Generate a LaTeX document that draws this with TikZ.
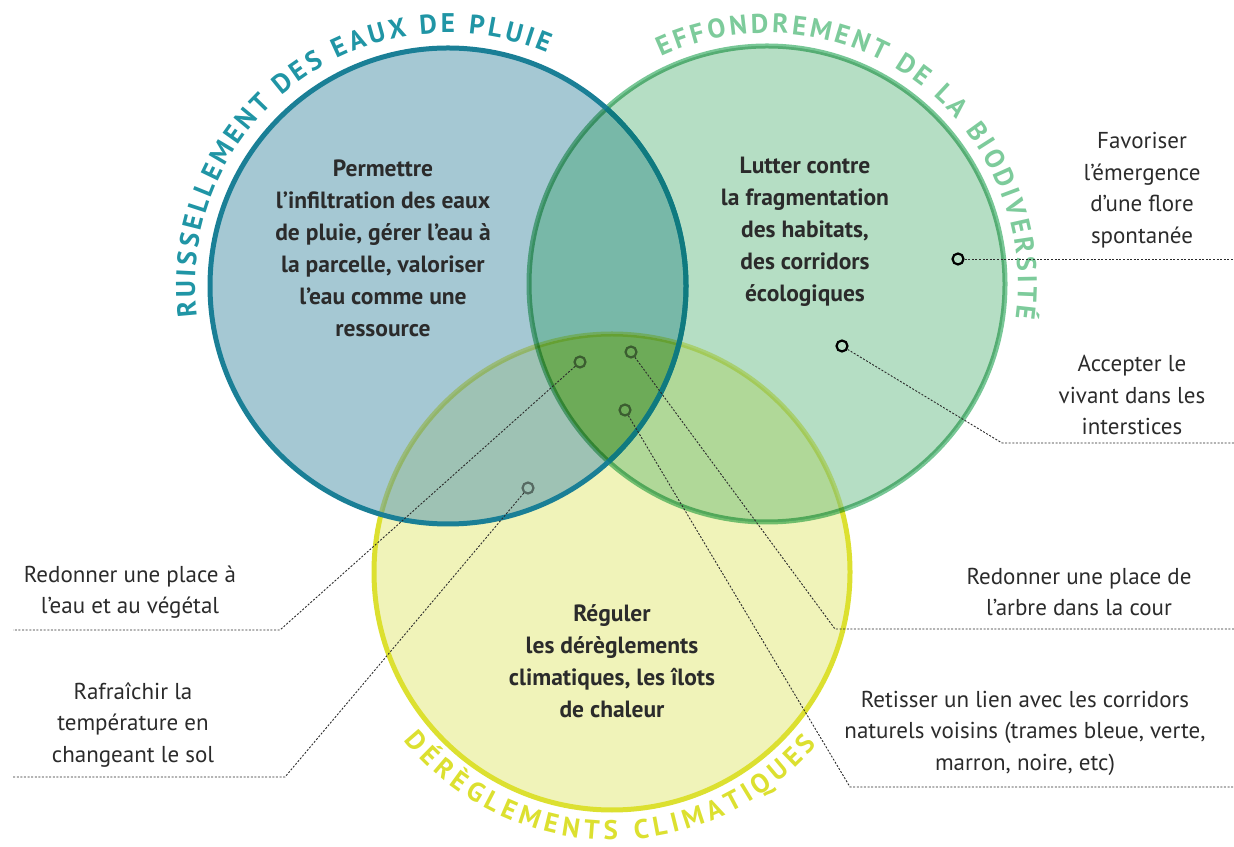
\documentclass[tikz,border=0pt]{standalone}
\usepackage{fontspec}
\setmainfont{PT Sans}
\usetikzlibrary{decorations.text}

\definecolor{bluefill}{HTML}{A5C8D3}
\definecolor{greenfill}{HTML}{B5DEC4}
\definecolor{yellowfill}{HTML}{F0F3B9}
\definecolor{abfill}{HTML}{78B8A8}
\definecolor{acfill}{HTML}{9EC2B4}
\definecolor{bcfill}{HTML}{B0D898}
\definecolor{abcfill}{HTML}{6DAB58}
\definecolor{blueline}{HTML}{1A7F96}
\definecolor{bluedeep}{HTML}{0F7A7F}
\definecolor{greenline}{HTML}{78C796}
\definecolor{yellowline}{HTML}{DCE030}
\definecolor{bluetitle}{HTML}{2095A5}
\definecolor{greentitle}{HTML}{7DCB9B}
\definecolor{yellowtitle}{HTML}{DCE030}
\definecolor{txt}{HTML}{2B2B2B}

\tikzset{
  ring/.style={line width=5pt},
  core/.style={align=center, text=txt, font=\bfseries\fontsize{23.5}{32}\selectfont},
  remark/.style={align=center, text=txt, font=\fontsize{23}{31.5}\selectfont},
  pin/.style={circle, draw=black, line width=2.2pt, minimum size=11pt, inner sep=0pt},
  pinlight/.style={pin, draw opacity=0.45},
  leader/.style={draw=txt, line width=0.9pt, dash pattern=on 2pt off 1.6pt},
  title/.style 2 args={decorate, decoration={text along path, text align={fit to path},
    text={|\bfseries\fontsize{27}{27}\selectfont\color{#1}|#2}}}
}
\newcommand\vennfills{%
\fill[bluefill] (A) circle[radius=238];
\fill[greenfill] (B) circle[radius=238];
\begin{scope}
\clip (B) circle[radius=238];
\fill[bcfill] (C) circle[radius=238];
\end{scope}
\begin{scope}
\clip (A) circle[radius=238];
\fill[abfill] (B) circle[radius=238];
\fill[acfill] (C) circle[radius=238];
\clip (B) circle[radius=238];
\fill[abcfill] (C) circle[radius=238];
\end{scope}}

\begin{document}
\begin{tikzpicture}[x=1pt, y=1pt]
\useasboundingbox (0,0) rectangle (1234,846);
%
\coordinate (A) at (448,560);
\coordinate (B) at (767,562);
\coordinate (C) at (612,274);

% fills
\fill[yellowfill] (C) circle[radius=238];
\vennfills
\draw[ring, yellowline] (C) circle[radius=238];
% yellow ring seen through the two upper discs
\begin{scope}
\clip (A) circle[radius=238] (B) circle[radius=238];
\vennfills
\draw[ring, yellowline, blend mode=multiply, draw opacity=0.5] (C) circle[radius=238];
\end{scope}

% rings
\draw[ring, greenline, blend mode=multiply] (B) circle[radius=238];
\draw[ring, blueline] (A) circle[radius=238];
\begin{scope}
\clip (B) circle[radius=238];
\draw[ring, bluedeep] (A) circle[radius=238];
\end{scope}

% titles
\path[title={bluetitle}{RUISSELLEMENT DES EAUX DE PLUIE}]
  ([shift={(A)}]187:253) arc[start angle=187, end angle=67, radius=253];
\path[title={greentitle}{EFFONDREMENT DE LA BIODIVERSITÉ}]
  ([shift={(B)}]115:251) arc[start angle=115, end angle=-8, radius=251];
\path[title={yellowtitle}{DÉRÈGLEMENTS CLIMATIQUES}]
  ([shift={(C)}]219:268) arc[start angle=219, end angle=320, radius=268];

% texts
\node[core] (pluie) at (383,598) {Permettre\\ l’infiltration des eaux\\ de pluie, gérer l’eau à\\ la parcelle, valoriser\\ l’eau comme une\\ ressource};
\node[core] (habitat) at (805,614) {Lutter contre\\ la fragmentation\\ des habitats,\\ des corridors\\ écologiques};
\node[core] (climat) at (612,185) {Réguler\\ les dérèglements\\ climatiques, les îlots\\ de chaleur};

% remarks
\node[remark] (flore) at (1142,656) {Favoriser\\ l’émergence\\ d’une flore\\ spontanée};
\node[remark] (vivant) at (1132,451) {Accepter le\\ vivant dans les\\ interstices};
\node[remark] (arbre) at (1079,254) {Redonner une place de\\ l’arbre dans la cour};
\node[remark] (trame) at (1025,113) {Retisser un lien avec les corridors\\ naturels voisins (trames bleue, verte,\\ marron, noire, etc)};
\node[remark] (eau) at (130,254) {Redonner une place à\\ l’eau et au végétal};
\node[remark] (sol) at (133,121) {Rafraîchir la\\ température en\\ changeant le sol};

% pins
\node[pin] (pflore) at (958,587) {};
\node[pin] (pvivant) at (842,500) {};
\node[pinlight] (parbre) at (631,494) {};
\node[pinlight] (ptrame) at (625,436) {};
\node[pinlight] (peau) at (580,484) {};
\node[pinlight] (psol) at (528,358) {};

% leaders
\coordinate (eflore) at (1234,587);
\coordinate (kvivant) at (1002,403);
\coordinate (evivant) at (1234,403);
\coordinate (karbre) at (835,217);
\coordinate (earbre) at (1234,217);
\coordinate (ktrame) at (850,59);
\coordinate (etrame) at (1234,59);
\coordinate (keau) at (280,216);
\coordinate (eeau) at (13,216);
\coordinate (ksol) at (285,69);
\coordinate (esol) at (13,69);
\draw[leader] (pflore) -- (eflore);
\draw[leader] (pvivant) -- (kvivant) -- (evivant);
\draw[leader] (parbre) -- (karbre) -- (earbre);
\draw[leader] (ptrame) -- (ktrame) -- (etrame);
\draw[leader] (peau) -- (keau) -- (eeau);
\draw[leader] (psol) -- (ksol) -- (esol);

\end{tikzpicture}
\end{document}
